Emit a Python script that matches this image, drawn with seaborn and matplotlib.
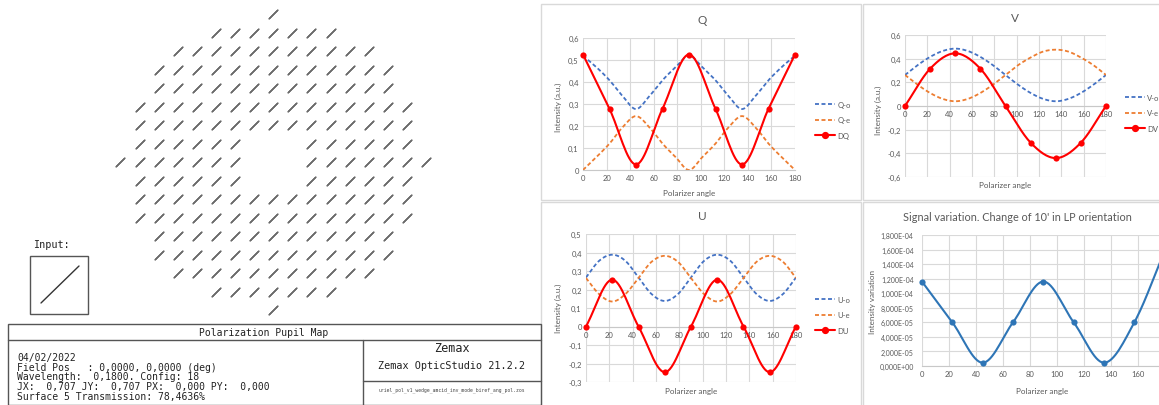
import numpy as np
import pandas as pd
import matplotlib
matplotlib.use("Agg")
import matplotlib.pyplot as plt
from matplotlib.lines import Line2D
from matplotlib.patches import Rectangle
import seaborn as sns

sns.set_theme(style="white")
plt.rcParams["font.family"] = ["Lato", "DejaVu Sans"]

W, H = 1159, 406

# ---- values ----
angle_fine = [0, 11.25, 22.5, 33.75, 45, 56.25, 67.5, 78.75, 90,
              101.25, 112.5, 123.75, 135, 146.25, 157.5, 168.75, 180]
angle_pts = [0, 22.5, 45, 67.5, 90, 112.5, 135, 157.5, 180]
x_ticks = [0, 20, 40, 60, 80, 100, 120, 140, 160, 180]

q_o = [0.52, 0.468, 0.408, 0.335, 0.277, 0.335, 0.408, 0.468, 0.52,
       0.468, 0.408, 0.335, 0.277, 0.335, 0.408, 0.468, 0.52]
q_e = [0.0, 0.058, 0.12, 0.195, 0.245, 0.195, 0.12, 0.058, 0.0,
       0.058, 0.12, 0.195, 0.245, 0.195, 0.12, 0.058, 0.0]
dq = [0.525, 0.278, 0.025, 0.278, 0.525, 0.278, 0.025, 0.278, 0.525]

v_o = [0.262, 0.345, 0.415, 0.465, 0.485, 0.465, 0.415, 0.345, 0.262,
       0.18, 0.11, 0.06, 0.04, 0.06, 0.11, 0.18, 0.262]
v_e = [0.262, 0.18, 0.11, 0.06, 0.04, 0.06, 0.11, 0.18, 0.262,
       0.345, 0.41, 0.46, 0.476, 0.46, 0.41, 0.345, 0.262]
dv = [0.0, 0.315, 0.445, 0.315, 0.0, -0.31, -0.44, -0.31, 0.0]

u_o = [0.265, 0.355, 0.388, 0.355, 0.265, 0.175, 0.138, 0.175, 0.265,
       0.355, 0.388, 0.355, 0.265, 0.175, 0.138, 0.175, 0.265]
u_e = [0.262, 0.175, 0.135, 0.175, 0.262, 0.35, 0.382, 0.35, 0.262,
       0.175, 0.135, 0.175, 0.262, 0.35, 0.382, 0.35, 0.262]
du = [0.0, 0.253, 0.0, -0.247, 0.0, 0.253, 0.0, -0.247, 0.0]

signal = [1.16e-4, 6.0e-5, 0.45e-5, 6.0e-5, 1.16e-4, 6.0e-5, 0.45e-5, 6.0e-5, 1.58e-4]

q_yticks = [0, 0.1, 0.2, 0.3, 0.4, 0.5, 0.6]
v_yticks = [-0.6, -0.4, -0.2, 0, 0.2, 0.4, 0.6]
u_yticks = [-0.3, -0.2, -0.1, 0, 0.1, 0.2, 0.3, 0.4, 0.5]
s_yticks = [0, 2e-5, 4e-5, 6e-5, 8e-5, 1e-4, 1.2e-4, 1.4e-4, 1.6e-4, 1.8e-4]

info_lines = ["04/02/2022",
              "Field Pos   : 0,0000, 0,0000 (deg)",
              "Wavelength:  0,1800. Config: 18",
              "JX:  0,707 JY:  0,707 PX:  0,000 PY:  0,000",
              "Surface 5 Transmission: 78,4636%"]

BLUE, ORANGE, RED, SBLUE = "#4472C4", "#ED7D31", "#FF0000", "#2E75B6"
GRID, TXT = "#d9d9d9", "#595959"
DASH = (0, (2.2, 1.4))


def smooth(x, y, n=16):
    # Excel-like smoothed line (Catmull-Rom through the points)
    x = np.asarray(x, float)
    y = np.asarray(y, float)
    px = np.r_[2 * x[0] - x[1], x, 2 * x[-1] - x[-2]]
    py = np.r_[2 * y[0] - y[1], y, 2 * y[-1] - y[-2]]
    t = np.linspace(0, 1, n, endpoint=False)
    xs, ys = [], []
    for i in range(1, len(px) - 2):
        for p, out in ((px, xs), (py, ys)):
            p0, p1, p2, p3 = p[i - 1:i + 3]
            out.append(0.5 * (2 * p1 + (p2 - p0) * t
                              + (2 * p0 - 5 * p1 + 4 * p2 - p3) * t ** 2
                              + (3 * p1 - p0 - 3 * p2 + p3) * t ** 3))
    xs.append([x[-1]])
    ys.append([y[-1]])
    return np.concatenate(xs), np.concatenate(ys)


def px_axes(x0, y0, x1, y1):
    return fig.add_axes([x0 / W, 1 - y1 / H, (x1 - x0) / W, (y1 - y0) / H])


def comma(v):
    return "0" if abs(v) < 1e-12 else f"{v:.1f}".replace(".", ",")


def style_chart(ax, ylim, yticks, ylabels, zero_spine=False, ypad=3):
    ax.set_xlim(0, 180)
    ax.set_ylim(*ylim)
    ax.set_xticks(x_ticks)
    ax.set_xticklabels([str(t) for t in x_ticks])
    ax.set_yticks(yticks)
    ax.set_yticklabels(ylabels)
    ax.grid(True, color=GRID, lw=0.8)
    ax.set_axisbelow(True)
    for s in ("top", "right", "left"):
        ax.spines[s].set_visible(False)
    ax.spines["bottom"].set_color("#c8c8c8")
    ax.spines["bottom"].set_linewidth(0.8)
    if zero_spine:
        ax.spines["bottom"].set_position(("data", 0))
    ax.tick_params(axis="x", length=0, labelsize=5.5, colors=TXT, pad=3)
    ax.tick_params(axis="y", length=0, labelsize=5.5, colors=TXT, pad=ypad)
    ax.set_xlabel("")
    ax.set_ylabel("")


def draw_pair(ax, o_vals, e_vals, d_vals, names, leg_xy):
    for vals, col in ((o_vals, BLUE), (e_vals, ORANGE)):
        xs, ys = smooth(angle_fine, vals)
        sns.lineplot(x=xs, y=ys, ax=ax, color=col, lw=1.3, linestyle=DASH,
                     estimator=None, sort=False)
    xs, ys = smooth(angle_pts, d_vals)
    sns.lineplot(x=xs, y=ys, ax=ax, color=RED, lw=1.5, estimator=None, sort=False)
    sns.scatterplot(x=angle_pts, y=d_vals, ax=ax, color=RED, s=20,
                    edgecolor=RED, linewidth=0, zorder=5, clip_on=False)
    handles = [Line2D([], [], color=BLUE, lw=1.3, linestyle=DASH),
               Line2D([], [], color=ORANGE, lw=1.3, linestyle=DASH),
               Line2D([], [], color=RED, lw=1.5, marker="o", ms=4.2)]
    leg = ax.legend(handles, names, loc="center left", frameon=False,
                    bbox_to_anchor=(leg_xy[0] / W, 1 - leg_xy[1] / H),
                    bbox_transform=fig.transFigure, fontsize=5.5,
                    handlelength=2.6, handletextpad=0.3, labelspacing=1.1,
                    borderpad=0, borderaxespad=0)
    for t in leg.get_texts():
        t.set_color(TXT)


fig = plt.figure(figsize=(W / 100, H / 100), dpi=100)

# ---- overlay in pixel coordinates ----
ov = fig.add_axes([0, 0, 1, 1], zorder=10)
ov.set_xlim(0, W)
ov.set_ylim(H, 0)
ov.axis("off")
ov.patch.set_alpha(0)

for (x0, y0, x1, y1) in [(541, 5, 861, 201), (863, 5, 1162, 201),
                         (541, 203, 861, 410), (863, 203, 1162, 410)]:
    ov.add_patch(Rectangle((x0, y0), x1 - x0, y1 - y0, fill=False,
                           ec=GRID, lw=1))

# Zemax info table
LC = "#555555"
ov.add_patch(Rectangle((8, 325), 533, 81, fill=False, ec=LC, lw=1))
ov.plot([8, 541], [341, 341], color=LC, lw=1)
ov.plot([363, 363], [341, 406], color=LC, lw=1)
ov.plot([363, 541], [382, 382], color=LC, lw=1)
mono = "DejaVu Sans Mono"
ov.text(264, 333.5, "Polarization Pupil Map", family=mono, fontsize=7,
        ha="center", va="center", color="#222222")
for i, line in enumerate(info_lines):
    ov.text(17, 358 + i * 9.7, line, family=mono, fontsize=7, ha="left",
            va="center", color="#222222")
ov.text(452, 349, "Zemax", family=mono, fontsize=8.5, ha="center",
        va="center", color="#222222")
ov.text(452, 366, "Zemax OpticStudio 21.2.2", family=mono, fontsize=7.3,
        ha="center", va="center", color="#222222")
ov.text(452, 390, "uriel_pol_v1_wedge_amcid_inv_mode_biref_ang_pol.zos",
        family=mono, fontsize=3.4, ha="center", va="center", color="#444444")

# Input box
ov.text(33, 245, "Input:", family=mono, fontsize=7.3, ha="left",
        va="center", color="#222222")
ov.add_patch(Rectangle((30, 257), 58, 58, fill=False, ec=LC, lw=1))
ov.plot([41, 79], [304, 267], color="#333333", lw=1)

# ---- polarization pupil map ----
PUPIL_R = 8
HOLE_R2 = 2
gx, gy = np.meshgrid(np.arange(-PUPIL_R, PUPIL_R + 1), np.arange(-PUPIL_R, PUPIL_R + 1))
r2 = gx ** 2 + gy ** 2
keep = (r2 <= PUPIL_R ** 2) & (r2 > HOLE_R2)
pupil = pd.DataFrame({"px": gx[keep], "py": gy[keep]})

axp = px_axes(273.3 - 8.8 * 19.1, 163.3 - 8.8 * 18.5, 273.3 + 8.8 * 19.1, 163.3 + 8.8 * 18.5)
sns.scatterplot(data=pupil, x="px", y="py", ax=axp, marker=(2, 2, -45),
                s=78, color="#6a6a6a", linewidth=0.95)
axp.set_xlim(-8.8, 8.8)
axp.set_ylim(-8.8, 8.8)
axp.axis("off")

# ---- Q ----
axq = px_axes(583, 39, 795, 171)
draw_pair(axq, q_o, q_e, dq, ["Q-o", "Q-e", "DQ"], (815, 121))
style_chart(axq, (0, 0.6), q_yticks, [comma(v) for v in q_yticks])

# ---- V ----
axv = px_axes(905, 36, 1106, 178)
draw_pair(axv, v_o, v_e, dv, ["V-o", "V-e", "DV"], (1125, 114))
style_chart(axv, (-0.6, 0.6), v_yticks, [comma(v) for v in v_yticks], zero_spine=True)

# ---- U ----
axu = px_axes(586, 235, 796, 383)
draw_pair(axu, u_o, u_e, du, ["U-o", "U-e", "DU"], (815, 316))
style_chart(axu, (-0.3, 0.5), u_yticks, [comma(v) for v in u_yticks], zero_spine=True)

# ---- signal variation ----
axs = px_axes(922, 236, 1164.7, 367)
xs, ys = smooth(angle_pts, signal)
sns.lineplot(x=xs, y=ys, ax=axs, color=SBLUE, lw=1.5, estimator=None, sort=False)
sns.scatterplot(x=angle_pts, y=signal, ax=axs, color=SBLUE, s=20,
                edgecolor=SBLUE, linewidth=0, zorder=5, clip_on=False)
style_chart(axs, (0, 1.8e-4), s_yticks,
            [f"{v:.3E}".replace(".", ",") for v in s_yticks], ypad=6)
axs.tick_params(axis="y", labelsize=5)

# titles and axis labels
for x, y, t in [(702, 21, "Q"), (1015, 18, "V"), (702, 217, "U")]:
    fig.text(x / W, 1 - y / H, t, ha="center", va="center", fontsize=8.5, color=TXT)
fig.text(1017 / W, 1 - 218 / H, "Signal variation. Change of 10' in LP orientation",
         ha="center", va="center", fontsize=7.8, color=TXT)
for x, y in [(689, 194), (1005, 186), (691, 392), (1042, 392)]:
    fig.text(x / W, 1 - y / H, "Polarizer angle", ha="center", va="center",
             fontsize=5.8, color=TXT)
for x, y in [(558, 107), (878, 110), (558, 308)]:
    fig.text(x / W, 1 - y / H, "Intensity (a.u.)", ha="center", va="center",
             rotation=90, fontsize=5.8, color=TXT)
fig.text(873 / W, 1 - 302 / H, "Intensity variation", ha="center", va="center",
         rotation=90, fontsize=5.8, color=TXT)

fig.savefig("out.png", dpi=100, facecolor="white")
